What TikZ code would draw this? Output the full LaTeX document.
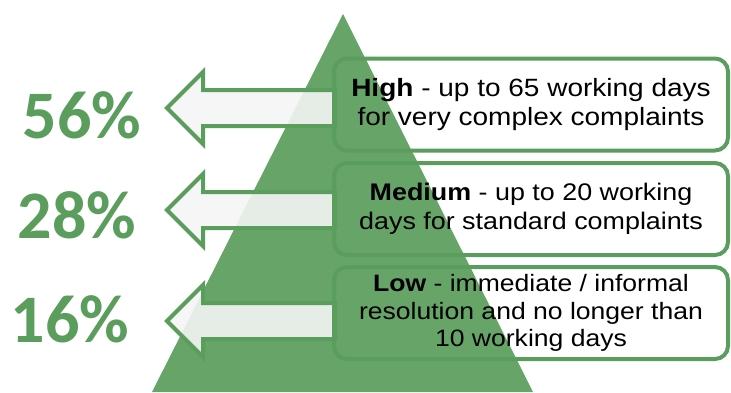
\documentclass[tikz,border=0pt]{standalone}
\usepackage{fontspec}
\setmainfont{Liberation Sans}
\newfontfamily\boxfont[FakeStretch=1.12]{Liberation Sans}
\newfontfamily\pctfont{Carlito}
\usetikzlibrary{shapes.arrows,positioning}

\definecolor{pyramid}{HTML}{66A468}
\definecolor{edgegreen}{HTML}{5A9D5C}

\begin{document}
\begin{tikzpicture}[
    x = 1pt, y = -1pt, % work in pixels, y downwards
    line width = 4pt, % border thickness
    ]

    \tikzset{
    levelbox/.style n args = {2}{
        draw = edgegreen,
        rounded corners = 13pt,
        minimum width = 394pt,
        minimum height = 92pt,
        outer sep = 0pt,
        align = center,
        font = \boxfont\fontsize{#1}{#2}\selectfont
        },
    backarrow/.style = {
        single arrow,
        shape border rotate = 180,
        draw = edgegreen,
        fill = gray!8,
        fill opacity = 0.9,
        inner xsep = 0pt,
        inner ysep = 16pt,
        outer sep = 0pt,
        single arrow head extend = 18pt,
        minimum height = 168pt,
        anchor = tail
        },
    pct/.style = {
        text = edgegreen,
        font = \pctfont\bfseries\fontsize{68}{68}\selectfont
        }
    }

    \useasboundingbox (0,0) rectangle (731,392);

    % the pyramid
    \fill[pyramid] (343,14) -- (152,392) -- (533,392) -- cycle;

    % arrows out of the boxes
    \node[backarrow] (a1) at (335,108) {};
    \node[backarrow] (a2) at (335,210) {};
    \node[backarrow] (a3) at (335,321) {};

    % the three levels
    \node[levelbox={25}{28.5}] (high) at (531,104.5)
        {\textbf{High} - up to 65 working days\\for very complex complaints};
    \node[levelbox={24}{28.5}] (medium) at (531,209)
        {\textbf{Medium} - up to 20 working\\days for standard complaints};
    \node[levelbox={23.7}{27.5}] (low) at (531,313)
        {\textbf{Low} - immediate / informal\\resolution and no longer than\\10 working days};

    \node[pct] (p1) at (82,115) {56\%};
    \node[pct] (p2) at (77,215) {28\%};
    \node[pct] (p3) at (70,319) {16\%};
\end{tikzpicture}
\end{document}
